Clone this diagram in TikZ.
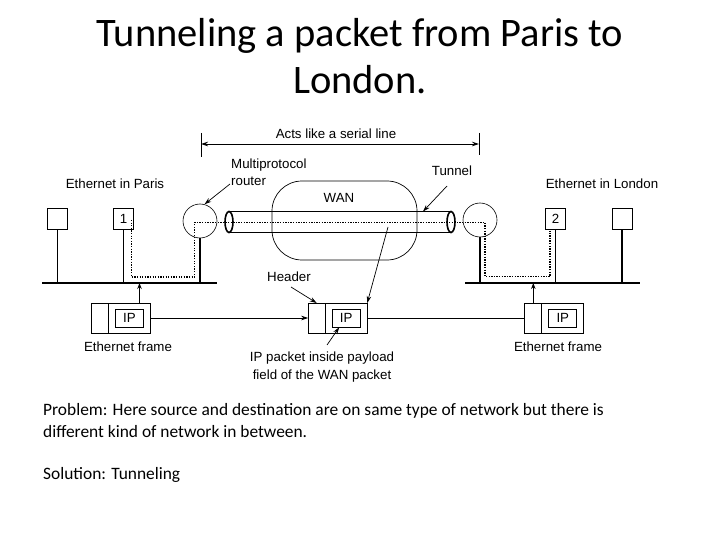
\documentclass[tikz,border=0pt]{standalone}
\usepackage{fontspec}
\setmainfont{Carlito}
\newfontfamily\figfont{Liberation Sans}
\usetikzlibrary{arrows.meta,positioning}
\tikzset{
        figlabel/.style={font=\figfont\fontsize{13.3}{16}\selectfont, inner sep=0pt},
        hostbox/.style={draw, fill=white, line width=0.8pt, minimum width=20pt, minimum height=21pt, inner sep=0pt, font=\figfont\fontsize{13.3}{16}\selectfont},
        router/.style={draw, circle, line width=0.6pt, minimum size=34pt, inner sep=0pt},
        lanbar/.style={line width=2.6pt},
        stem/.style={line width=1.6pt},
        tube/.style={line width=1.6pt},
        trace/.style={dash pattern=on 1.3pt off 1.3pt, line width=1.4pt},
        pointer/.style={-{Stealth[length=7pt,width=4.5pt]}, line width=0.7pt},
        framehdr/.style={draw, line width=0.7pt, minimum width=17pt, minimum height=30pt, inner sep=0pt, outer sep=0pt},
        framebody/.style={draw, line width=0.7pt, minimum width=42pt, minimum height=30pt, inner sep=0pt, outer sep=0pt},
        ipbox/.style={draw, line width=0.7pt, minimum width=28pt, minimum height=18pt, inner sep=0pt, font=\figfont\fontsize{13.3}{16}\selectfont},
        note/.style={anchor=base west, font=\fontsize{17.4}{21}\selectfont, inner sep=0pt},
}

\begin{document}
\begin{tikzpicture}[x=1pt, y=-1pt]
        \useasboundingbox[fill=white] (0, 0) rectangle (720, 540);
        % Title {{{
        \node[anchor=base, font=\fontsize{40.5}{48}\selectfont] (title1) at (360, 47) {Tunneling a packet from Paris to};
        \node[anchor=base, font=\fontsize{40.5}{48}\selectfont] (title2) at (360, 94) {London.};
        % }}}
        % Serial line span {{{
        \coordinate (spanL) at (201, 144);
        \coordinate (spanR) at (479, 144);
        \draw[line width=0.8pt] (201, 133) -- (201, 157) (479, 133) -- (479, 155);
        \draw[{Stealth[length=7pt,width=4.5pt]}-{Stealth[length=7pt,width=4.5pt]}, line width=0.8pt] (spanL) -- (spanR);
        \node[figlabel] (span) at (336, 134) {Acts like a serial line};
        % }}}
        % Paris side {{{
        \node[figlabel] (paris) at (115, 184) {Ethernet in Paris};
        \coordinate (pW) at (42, 283);
        \coordinate (pE) at (217, 283);
        \node[hostbox] (pA) at (57.5, 218.5) {};
        \node[hostbox] (p1) at (123.5, 218.5) {1};
        \node[router] (rP) at (200, 221) {};
        \draw[lanbar] (pW) -- (pE);
        \draw[stem] (pA.south) -- (pA.south |- pW);
        \draw[stem] (p1.south) -- (p1.south |- pW);
        \draw[stem] (rP.south) -- (rP.south |- pW);
        % }}}
        % London side {{{
        \node[figlabel] (london) at (602, 184) {Ethernet in London};
        \coordinate (lW) at (465, 283);
        \coordinate (lE) at (640, 283);
        \node[hostbox] (l2) at (555.5, 218.5) {2};
        \node[hostbox] (lB) at (622, 218.5) {};
        \node[router] (rL) at (480, 220) {};
        \draw[lanbar] (lW) -- (lE);
        \draw[stem] (l2.south) -- (l2.south |- lW);
        \draw[stem] (lB.south) -- (lB.south |- lW);
        \draw[stem] (rL.south) -- (rL.south |- lW);
        % }}}
        % WAN and tunnel {{{
        \draw[line width=0.7pt, rounded corners=30pt] (272, 181) rectangle (417, 260);
        \node[figlabel] (wan) at (339, 198) {WAN};
        \coordinate (tL) at (229, 222);
        \coordinate (tR) at (451, 222);
        \coordinate (tTop) at (423, 211.5);
        \coordinate (tIn) at (388, 227);
        \draw[tube] (tL) ellipse (4 and 10.5) (tR) ellipse (4 and 10.5);
        \draw[tube] (229, 211.5) -- (451, 211.5) (229, 232.5) -- (451, 232.5);
        \draw[trace] (131.5, 220) -- (131.5, 277) -- (194.5, 277) -- (194.5, 222.5)
                -- (485, 222.5) -- (485, 276.5) -- (550, 276.5) -- (550, 231);
        % }}}
        % Labels with pointers {{{
        \node[figlabel, anchor=west, align=left] (mpr) at (231, 172.5) {Multiprotocol\\[1pt]router};
        \node[figlabel] (tunnel) at (452, 171) {Tunnel};
        \draw[pointer] (230, 184) -- (rP.75);
        \draw[pointer] (447, 186) -- (tTop);
        % }}}
        % Frames {{{
        \node[framehdr] (fh1) at (100, 318) {};
        \node[framebody, right=0pt of fh1] (fb1) {};
        \node[ipbox] (ip1) at (fb1) {IP};
        \node[framehdr] (fh2) at (316.7, 318) {};
        \node[framebody, right=0pt of fh2] (fb2) {};
        \node[ipbox] (ip2) at (fb2) {IP};
        \node[framehdr] (fh3) at (533.3, 318) {};
        \node[framebody, right=0pt of fh3] (fb3) {};
        \node[ipbox] (ip3) at (fb3) {IP};
        \draw[pointer] (fb1.east) -- (fh2.west);
        \draw[line width=0.7pt] (fb2.east) -- (fh3.west);
        \draw[-{Stealth[length=6pt,width=4.5pt]}, line width=1.6pt] ([xshift=10pt]fb1.north) -- ([xshift=10pt]fb1.north |- pW);
        \draw[-{Stealth[length=6pt,width=4.5pt]}, line width=1.6pt] (fh3.north) -- (fh3.north |- lW);
        \node[figlabel] (eth1) at (128, 347) {Ethernet frame};
        \node[figlabel] (eth3) at (558, 347) {Ethernet frame};
        \node[figlabel] (hdr) at (289, 277) {Header};
        \node[figlabel, align=center] (payload) at (322, 367) {IP packet inside payload\\[2pt]field of the WAN packet};
        \draw[pointer] (291, 287) -- (fh2.north);
        \draw[pointer] (tIn) -- (fb2.north east);
        \draw[pointer] (327, 345) -- ([xshift=-7pt]ip2.south);
        % }}}
        % Notes {{{
        \node[note] (problem1) at (43, 415) {Problem: Here source and destination are on same type of network but there is};
        \node[note] (problem2) at (43, 437) {different kind of network in between.};
        \node[note] (solution) at (43, 479) {Solution: Tunneling};
        % }}}
\end{tikzpicture}
\end{document}
